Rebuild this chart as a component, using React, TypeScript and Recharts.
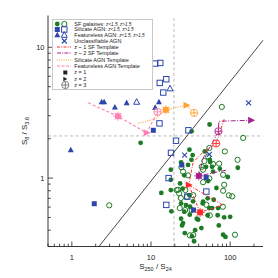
import { Legend, ReferenceLine, Scatter, ScatterChart, XAxis, YAxis } from 'recharts';

const FONT = '"Liberation Sans", Arial, sans-serif';
const INK = '#222';
const GREEN = '#1d7a25';
const BLUE = '#2c46ad';
const RED = '#ff2b2b';
const PURPLE = '#a8208c';
const ORANGE = '#ffa133';
const PINK = '#ff80b4';

// plot box inside the 270x270 chart
const PLOT = { left: 40, top: 7.5, right: 255, bottom: 238.5 };

const xTicks = [0.5, 0.6, 0.7, 0.8, 0.9, 1, 2, 3, 4, 5, 6, 7, 8, 9, 10, 20, 30, 40, 50, 60, 70, 80, 90, 100, 200];
const yTicks = [0.3, 0.4, 0.5, 0.6, 0.7, 0.8, 0.9, 1, 2, 3, 4, 5, 6, 7, 8, 9, 10];

const sfLow = [
  { x: 7.4, y: 1.86 }, { x: 32.6, y: 2.28 }, { x: 55.0, y: 2.57 }, { x: 30.6, y: 1.65 },
  { x: 33.6, y: 1.5 }, { x: 56.0, y: 1.33 }, { x: 125, y: 1.2 }, { x: 47.8, y: 1.6 },
  { x: 55.3, y: 1.38 }, { x: 24.0, y: 1.32 }, { x: 49.6, y: 1.22 }, { x: 59.2, y: 1.22 },
  { x: 17.8, y: 1.16 }, { x: 17.8, y: 0.97 }, { x: 60.9, y: 1.12 }, { x: 74.1, y: 1.18 },
  { x: 93.3, y: 1.02 }, { x: 67.1, y: 0.84 }, { x: 52.7, y: 0.95 }, { x: 26.3, y: 1.05 },
  { x: 23.3, y: 0.91 }, { x: 25.1, y: 0.83 }, { x: 13.5, y: 0.77 }, { x: 17.8, y: 0.81 },
  { x: 30.6, y: 0.74 }, { x: 18.1, y: 0.557 }, { x: 45.0, y: 0.64 }, { x: 52.0, y: 0.7 },
  { x: 24.0, y: 0.64 }, { x: 27.7, y: 0.622 }, { x: 31.1, y: 0.604 }, { x: 26.3, y: 0.553 },
  { x: 37.9, y: 0.49 }, { x: 52.0, y: 0.52 }, { x: 69.6, y: 0.52 }, { x: 24.0, y: 0.49 },
  { x: 30.9, y: 0.525 }, { x: 39.4, y: 0.481 }, { x: 84.0, y: 0.501 }, { x: 25.4, y: 0.453 },
  { x: 24.7, y: 0.435 }, { x: 71.9, y: 0.435 }, { x: 43.3, y: 0.415 }, { x: 26.7, y: 0.38 },
  { x: 33.0, y: 0.359 }, { x: 81.5, y: 0.369 }, { x: 87.2, y: 0.355 }, { x: 35.0, y: 0.329 },
  { x: 100, y: 0.506 }, { x: 62.0, y: 0.683 }, { x: 45.5, y: 0.66 }, { x: 54.3, y: 0.59 },
  { x: 29.4, y: 1.26 }, { x: 32.4, y: 1.38 }, { x: 70.5, y: 0.59 }, { x: 59.2, y: 0.59 },
  { x: 34.0, y: 0.664 }, { x: 36.1, y: 0.4 },
];

const sfHigh = [
  { x: 78.5, y: 3.5 }, { x: 146, y: 2.03 }, { x: 2.97, y: 0.619 }, { x: 85.7, y: 1.6 },
  { x: 124, y: 1.38 }, { x: 52.7, y: 1.46 }, { x: 60.9, y: 1.28 }, { x: 24.2, y: 1.21 },
  { x: 25.4, y: 1.12 }, { x: 45.5, y: 1.16 }, { x: 81.5, y: 1.06 }, { x: 45.5, y: 0.93 },
  { x: 84.0, y: 0.889 }, { x: 81.5, y: 0.8 }, { x: 96.3, y: 0.738 }, { x: 106, y: 0.725 },
  { x: 22.0, y: 0.814 }, { x: 23.8, y: 0.704 }, { x: 23.1, y: 0.59 }, { x: 50.1, y: 0.625 },
  { x: 55.3, y: 0.519 }, { x: 30.9, y: 0.365 }, { x: 115, y: 0.369 }, { x: 47.3, y: 1.35 },
  { x: 54.6, y: 1.7 }, { x: 72.7, y: 1.29 }, { x: 54.6, y: 0.995 }, { x: 27.2, y: 0.81 },
  { x: 22.7, y: 0.764 }, { x: 34.2, y: 0.74 }, { x: 28.4, y: 0.72 }, { x: 32.6, y: 0.57 },
  { x: 27.0, y: 0.57 }, { x: 80.9, y: 0.604 }, { x: 34.2, y: 0.367 }, { x: 21.1, y: 0.81 },
  { x: 43.8, y: 1.22 }, { x: 29.4, y: 1.05 },
];

const silLow = [
  { x: 10.7, y: 2.32 }, { x: 1.92, y: 0.637 }, { x: 24.5, y: 1.26 }, { x: 49.7, y: 1.01 },
  { x: 34.5, y: 0.57 },
];

const silHigh = [
  { x: 11.3, y: 7.51 }, { x: 13.1, y: 7.59 }, { x: 12.9, y: 5.34 }, { x: 15.6, y: 5.7 },
  { x: 14.3, y: 4.51 }, { x: 12.8, y: 2.62 }, { x: 29.7, y: 2.32 }, { x: 20.7, y: 1.93 },
  { x: 17.9, y: 1.56 }, { x: 16.7, y: 1.0 }, { x: 15.6, y: 0.624 }, { x: 50.0, y: 0.789 },
  { x: 28.8, y: 0.722 },
];

const featLow = [
  { x: 0.97, y: 1.64 }, { x: 2.38, y: 3.82 }, { x: 2.56, y: 3.82 }, { x: 3.5, y: 3.48 },
  { x: 4.93, y: 3.76 }, { x: 12.6, y: 3.82 }, { x: 11.3, y: 3.46 },
];

const featHigh = [{ x: 6.59, y: 3.82 }, { x: 17.4, y: 4.84 }];

const unclass = [{ x: 171, y: 3.76 }, { x: 26.6, y: 1.5 }, { x: 54.6, y: 1.52 }];

// templates, zm = redshift marker (1, 2, 3)
const sfZ1 = [
  { x: 84.0, y: 2.82 }, { x: 66.5, y: 1.84, zm: 3 }, { x: 45.5, y: 1.58 }, { x: 34.0, y: 1.32 },
  { x: 30.0, y: 0.885, zm: 2 }, { x: 41.7, y: 0.547, zm: 1 }, { x: 80.9, y: 0.622 }, { x: 30.0, y: 0.885 },
];

const sfZ2 = [
  { x: 89.0, y: 1.15 }, { x: 40.2, y: 1.04, zm: 1 }, { x: 45.5, y: 1.42 }, { x: 57.5, y: 1.79 },
  { x: 71.1, y: 2.28, zm: 3 }, { x: 71.9, y: 2.72 }, { x: 184, y: 2.77, zm: 2 },
];

const silTemplate = [
  { x: 6.9, y: 2.62 }, { x: 11.2, y: 2.82 }, { x: 15.4, y: 3.33, zm: 1 }, { x: 28.1, y: 3.61, zm: 2 },
  { x: 35.0, y: 3.15, zm: 3 },
];

const featTemplate = [
  { x: 1.61, y: 3.76 }, { x: 3.82, y: 2.97, zm: 1 }, { x: 8.82, y: 2.22, zm: 2 }, { x: 12.1, y: 3.21, zm: 3 },
];

const isDecade = (v: number) => Math.abs(Math.log10(v) - Math.round(Math.log10(v))) < 1e-6;

const Z1 = ({ cx, cy, color }: any) => (
  <g stroke={color} strokeWidth={0.9}>
    <rect x={cx - 2.4} y={cy - 2.4} width={4.8} height={4.8} fill={color} />
    <line x1={cx - 4.5} x2={cx + 4.5} y1={cy} y2={cy} />
    <line x1={cx} x2={cx} y1={cy - 4.5} y2={cy + 4.5} />
    <line x1={cx - 3.3} x2={cx + 3.3} y1={cy - 3.3} y2={cy + 3.3} />
    <line x1={cx - 3.3} x2={cx + 3.3} y1={cy + 3.3} y2={cy - 3.3} />
  </g>
);

const Z2 = ({ cx, cy, color }: any) => (
  <polygon points={`${cx - 3},${cy - 3.5} ${cx + 4},${cy} ${cx - 3},${cy + 3.5}`} fill={color} />
);

const Z3 = ({ cx, cy, color }: any) => (
  <g stroke={color} strokeWidth={0.9} fill="none">
    <circle cx={cx} cy={cy} r={3.6} fill="rgba(255,255,255,0.5)" />
    <line x1={cx - 3.6} x2={cx + 3.6} y1={cy} y2={cy} />
    <line x1={cx} x2={cx} y1={cy - 3.6} y2={cy + 3.6} />
  </g>
);

const zMark = (color: string) => (p: any) => {
  const zm = p.payload?.zm;
  if (zm === 1) return <Z1 cx={p.cx} cy={p.cy} color={color} />;
  if (zm === 2) return <Z2 cx={p.cx} cy={p.cy} color={color} />;
  if (zm === 3) return <Z3 cx={p.cx} cy={p.cy} color={color} />;
  return <g />;
};

const filledDot = (p: any) => <circle cx={p.cx} cy={p.cy} r={2.4} fill={GREEN} />;
const openDot = (p: any) => <circle cx={p.cx} cy={p.cy} r={2.6} fill="none" stroke={GREEN} strokeWidth={1} />;
const filledSquare = (p: any) => <rect x={p.cx - 2.5} y={p.cy - 2.5} width={5} height={5} fill={BLUE} />;
const openSquare = (p: any) => (
  <rect x={p.cx - 2.7} y={p.cy - 2.7} width={5.4} height={5.4} fill="none" stroke={BLUE} strokeWidth={1} />
);
const filledTri = (p: any) => (
  <polygon points={`${p.cx},${p.cy - 3.3} ${p.cx + 3},${p.cy + 2.3} ${p.cx - 3},${p.cy + 2.3}`} fill={BLUE} />
);
const openTri = (p: any) => (
  <polygon
    points={`${p.cx},${p.cy - 3.3} ${p.cx + 3},${p.cy + 2.3} ${p.cx - 3},${p.cy + 2.3}`}
    fill="none"
    stroke={BLUE}
    strokeWidth={1}
  />
);
const cross = (p: any) => (
  <g stroke={BLUE} strokeWidth={1.1}>
    <line x1={p.cx - 2.5} x2={p.cx + 2.5} y1={p.cy - 2.5} y2={p.cy + 2.5} />
    <line x1={p.cx - 2.5} x2={p.cx + 2.5} y1={p.cy + 2.5} y2={p.cy - 2.5} />
  </g>
);

const BottomTick = ({ x, y, payload }: any) => {
  const v = payload.value;
  const major = isDecade(v);
  return (
    <g>
      <line x1={x} x2={x} y1={y} y2={y - (major ? 5 : 2.8)} stroke={INK} strokeWidth={0.8} />
      {major && (
        <text x={x} y={y + 13} textAnchor="middle" fontSize={7.5} fill={INK} fontFamily={FONT}>
          {v}
        </text>
      )}
    </g>
  );
};

const TopTick = ({ x, y, payload }: any) => (
  <line x1={x} x2={x} y1={y} y2={y + (isDecade(payload.value) ? 5 : 2.8)} stroke={INK} strokeWidth={0.8} />
);

const LeftTick = ({ x, y, payload }: any) => {
  const v = payload.value;
  const major = isDecade(v);
  return (
    <g>
      <line x1={x} x2={x + (major ? 5 : 2.8)} y1={y} y2={y} stroke={INK} strokeWidth={0.8} />
      {major && (
        <text x={x - 3.5} y={y + 2.7} textAnchor="end" fontSize={7.5} fill={INK} fontFamily={FONT}>
          {v}
        </text>
      )}
    </g>
  );
};

const RightTick = ({ x, y, payload }: any) => (
  <line x1={x} x2={x - (isDecade(payload.value) ? 5 : 2.8)} y1={y} y2={y} stroke={INK} strokeWidth={0.8} />
);

const XTitle = () => (
  <text x={(PLOT.left + PLOT.right) / 2} y={PLOT.bottom + 22.5} textAnchor="middle" fontSize={8} fill={INK} fontFamily={FONT}>
    S<tspan fontSize={5.5} dy={1.5}>250</tspan>
    <tspan dy={-1.5}> / S</tspan>
    <tspan fontSize={5.5} dy={1.5}>24</tspan>
  </text>
);

const YTitle = () => (
  <text
    x={19}
    y={(PLOT.top + PLOT.bottom) / 2}
    transform={`rotate(-90 19 ${(PLOT.top + PLOT.bottom) / 2})`}
    textAnchor="middle"
    fontSize={8}
    fill={INK}
    fontFamily={FONT}
  >
    S<tspan fontSize={5.5} dy={1.5}>8</tspan>
    <tspan dy={-1.5}> / S</tspan>
    <tspan fontSize={5.5} dy={1.5}>3.6</tspan>
  </text>
);

const rows = [5, 10.5, 16, 22, 28, 34, 41, 47, 53.5, 60, 66];

const LegendText = ({ y, main, sub }: { y: number; main: string; sub?: string }) => (
  <text x={22.3} y={y + 1.9} fontSize={5.5} fill={INK} fontFamily={FONT}>
    {main}
    {sub && (
      <tspan fontSize={4.6} fontStyle="italic">
        {sub}
      </tspan>
    )}
  </text>
);

const LegendBox = () => (
  <svg width={101} height={71} style={{ display: 'block' }}>
    <rect x={0.5} y={0.5} width={100} height={70} fill="#fff" stroke="#c8c8c8" />
    {filledDot({ cx: 5.3, cy: rows[0] })}
    {openDot({ cx: 12.3, cy: rows[0] })}
    <LegendText y={rows[0]} main="SF galaxies: " sub="z<1.5, z>1.5" />
    {filledSquare({ cx: 5.3, cy: rows[1] })}
    {openSquare({ cx: 12.3, cy: rows[1] })}
    <LegendText y={rows[1]} main="Silicate AGN: " sub="z<1.5, z>1.5" />
    {filledTri({ cx: 5.3, cy: rows[2] })}
    {openTri({ cx: 12.3, cy: rows[2] })}
    <LegendText y={rows[2]} main="Featureless AGN: " sub="z<1.5, z>1.5" />
    {cross({ cx: 12.3, cy: rows[3] })}
    <LegendText y={rows[3]} main="Unclassifiable AGN" />
    <line x1={5} x2={19} y1={rows[4]} y2={rows[4]} stroke={RED} strokeDasharray="3 1.2 1 1.2" />
    <LegendText y={rows[4]} main="z ~ 1 SF Template" />
    <line x1={5} x2={19} y1={rows[5]} y2={rows[5]} stroke={PURPLE} strokeDasharray="4 1.2 1 1.2" />
    <LegendText y={rows[5]} main="z ~ 2 SF Template" />
    <line x1={5} x2={19} y1={rows[6]} y2={rows[6]} stroke={ORANGE} strokeDasharray="1 1.2" />
    <LegendText y={rows[6]} main="Silicate AGN Template" />
    <line x1={5} x2={19} y1={rows[7]} y2={rows[7]} stroke={PINK} strokeDasharray="3 1.5" />
    <LegendText y={rows[7]} main="Featureless AGN Template" />
    <rect x={11.3} y={rows[8] - 2} width={4} height={4} fill="#222" />
    <LegendText y={rows[8]} main="z = 1" />
    <polygon points={`${11.3},${rows[9] - 2.3} ${15.3},${rows[9]} ${11.3},${rows[9] + 2.3}`} fill="#222" />
    <LegendText y={rows[9]} main="z = 2" />
    <Z3 cx={13.3} cy={rows[10]} color="#777" />
    <LegendText y={rows[10]} main="z = 3" />
  </svg>
);

export default function App() {
  return (
    <ScatterChart width={270} height={270} margin={{ top: 7.5, right: 15, bottom: 0, left: 0 }}>
      <XAxis
        type="number"
        dataKey="x"
        scale="log"
        domain={[0.5, 260]}
        allowDataOverflow
        ticks={xTicks}
        interval={0}
        height={31.5}
        tickSize={0}
        tickMargin={0}
        tickLine={false}
        tick={<BottomTick />}
        axisLine={{ stroke: INK, strokeWidth: 0.9 }}
        label={<XTitle />}
      />
      <XAxis
        xAxisId="top"
        orientation="top"
        type="number"
        dataKey="x"
        scale="log"
        domain={[0.5, 260]}
        allowDataOverflow
        ticks={xTicks}
        interval={0}
        height={0}
        tickSize={0}
        tickMargin={0}
        tickLine={false}
        tick={<TopTick />}
        axisLine={{ stroke: INK, strokeWidth: 0.9 }}
      />
      <YAxis
        type="number"
        dataKey="y"
        scale="log"
        domain={[0.3, 17.5]}
        allowDataOverflow
        ticks={yTicks}
        interval={0}
        width={40}
        tickSize={0}
        tickMargin={0}
        tickLine={false}
        tick={<LeftTick />}
        axisLine={{ stroke: INK, strokeWidth: 0.9 }}
        label={<YTitle />}
      />
      <YAxis
        yAxisId="right"
        orientation="right"
        type="number"
        dataKey="y"
        scale="log"
        domain={[0.3, 17.5]}
        allowDataOverflow
        ticks={yTicks}
        interval={0}
        width={0}
        tickSize={0}
        tickMargin={0}
        tickLine={false}
        tick={<RightTick />}
        axisLine={{ stroke: INK, strokeWidth: 0.9 }}
      />
      <ReferenceLine x={19.5} stroke="#aaa" strokeDasharray="3 2.5" strokeWidth={0.8} />
      <ReferenceLine y={2.1} stroke="#aaa" strokeDasharray="3 2.5" strokeWidth={0.8} />
      <ReferenceLine
        segment={[
          { x: 2.2, y: 0.3 },
          { x: 260, y: 11.3 },
        ]}
        stroke="#333"
        strokeWidth={0.9}
        ifOverflow="visible"
      />
      <Scatter data={sfLow} shape={filledDot} isAnimationActive={false} />
      <Scatter data={sfHigh} shape={openDot} isAnimationActive={false} />
      <Scatter data={silLow} shape={filledSquare} isAnimationActive={false} />
      <Scatter data={silHigh} shape={openSquare} isAnimationActive={false} />
      <Scatter data={featLow} shape={filledTri} isAnimationActive={false} />
      <Scatter data={featHigh} shape={openTri} isAnimationActive={false} />
      <Scatter data={unclass} shape={cross} isAnimationActive={false} />
      <Scatter
        data={featTemplate}
        line={{ stroke: PINK, strokeWidth: 1.1, strokeDasharray: '3 2' }}
        lineType="joint"
        shape={zMark(PINK)}
        isAnimationActive={false}
      />
      <Scatter
        data={silTemplate}
        line={{ stroke: ORANGE, strokeWidth: 1.1, strokeDasharray: '1 1.3' }}
        lineType="joint"
        shape={zMark(ORANGE)}
        isAnimationActive={false}
      />
      <Scatter
        data={sfZ2}
        line={{ stroke: PURPLE, strokeWidth: 1, strokeDasharray: '5 1.5 1 1.5' }}
        lineType="joint"
        shape={zMark(PURPLE)}
        isAnimationActive={false}
      />
      <Scatter
        data={sfZ1}
        line={{ stroke: RED, strokeWidth: 1, strokeDasharray: '3 1.5 1 1.5' }}
        lineType="joint"
        shape={zMark(RED)}
        isAnimationActive={false}
      />
      <Legend
        layout="vertical"
        align="center"
        verticalAlign="middle"
        content={() => <LegendBox />}
        wrapperStyle={{ left: 43.7, top: 11, width: 101, height: 71 }}
      />
    </ScatterChart>
  );
}
